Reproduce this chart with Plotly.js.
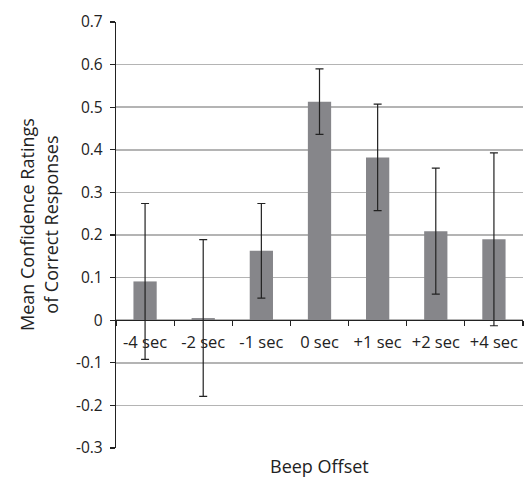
<!DOCTYPE html>
<html>
<head>
<meta charset="utf-8">
<script src="https://cdn.plot.ly/plotly-3.0.1.min.js"></script>
<style>html,body{margin:0;padding:0;background:#fff;}#chart{width:525px;height:482px;}</style>
</head>
<body>
<div id="chart"></div>
<script>
var categories = ["-4 sec", "-2 sec", "-1 sec", "0 sec", "+1 sec", "+2 sec", "+4 sec"];
var meanValues = [0.091, 0.005, 0.163, 0.513, 0.382, 0.209, 0.190];
var errorValues = [0.183, 0.184, 0.111, 0.077, 0.125, 0.148, 0.203];
var yTickValues = [-0.3, -0.2, -0.1, 0, 0.1, 0.2, 0.3, 0.4, 0.5, 0.6, 0.7];
var yTickLabels = ["-0.3", "-0.2", "-0.1", "0", "0.1", "0.2", "0.3", "0.4", "0.5", "0.6", "0.7"];

var font = "Open Sans, sans-serif";

var trace = {
  type: "bar",
  x: categories,
  y: meanValues,
  marker: {color: "#86868a"},
  width: 0.4,
  error_y: {type: "data", array: errorValues, visible: true, color: "#222222", thickness: 1.2, width: 4}
};

var layout = {
  width: 525, height: 482,
  margin: {l: 116, r: 2, t: 22, b: 34},
  paper_bgcolor: "#ffffff", plot_bgcolor: "#ffffff",
  showlegend: false,
  font: {family: font, size: 15, color: "#222222"},
  xaxis: {
    type: "category",
    anchor: "free", position: 0.3,
    showline: true, linecolor: "#222222", linewidth: 1.2,
    ticks: "outside", tickson: "boundaries", ticklen: 5, tickcolor: "#222222", tickwidth: 1.2,
    ticklabelstandoff: 7,
    showgrid: false, zeroline: false,
    tickfont: {family: font, size: 16.5, color: "#222222"},
    fixedrange: true
  },
  yaxis: {
    range: [-0.3, 0.7],
    tickvals: yTickValues, ticktext: yTickLabels,
    showline: true, linecolor: "#222222", linewidth: 1.2,
    ticks: "outside", ticklen: 5, tickcolor: "#222222", tickwidth: 1.2,
    ticklabelstandoff: 4,
    showgrid: true, gridcolor: "#b4b4b4", gridwidth: 1.5,
    zeroline: false,
    tickfont: {family: font, size: 15.5, color: "#222222"},
    fixedrange: true
  },
  annotations: [
    {text: "Mean Confidence Ratings<br>of Correct Responses", xref: "paper", yref: "paper",
     x: -0.19, y: 0.525, xanchor: "center", yanchor: "middle", textangle: -90, showarrow: false,
     font: {family: font, size: 18, color: "#222222"}},
    {text: "Beep Offset", xref: "paper", yref: "paper",
     x: 0.5, y: -0.042, xanchor: "center", yanchor: "middle", showarrow: false,
     font: {family: font, size: 18, color: "#222222"}}
  ]
};

Plotly.newPlot("chart", [trace], layout, {displayModeBar: false, staticPlot: true});
</script>
</body>
</html>
